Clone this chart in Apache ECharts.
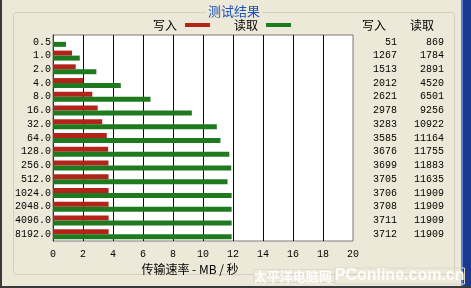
<!DOCTYPE html>
<html>
<head>
<meta charset="utf-8">
<script src="https://cdn.jsdelivr.net/npm/echarts@6/dist/echarts.min.js"></script>
<style>
html,body{margin:0;padding:0;background:#ECE9D8;}
#c{width:471px;height:288px;}
</style>
</head>
<body>
<div id="c"></div>
<script>
var categories = ['0.5','1.0','2.0','4.0','8.0','16.0','32.0','64.0','128.0','256.0','512.0','1024.0','2048.0','4096.0','8192.0'];
var writeKB = [51,1267,1513,2012,2621,2978,3283,3585,3676,3699,3705,3706,3708,3711,3712];
var readKB = [869,1784,2891,4520,6501,9256,10922,11164,11755,11883,11635,11909,11909,11909,11909];
var xTicks = [0,2,4,6,8,10,12,14,16,18,20];

var mono = '"Liberation Mono","DejaVu Sans Mono",monospace';
var cjk = '"Noto Sans CJK SC","Noto Sans",sans-serif';
var RED = '#B4231A', GREEN = '#1F7A1F';

var chart = echarts.init(document.getElementById('c'), null, {renderer:'canvas'});
var option = {
  animation:false,
  backgroundColor:'#ECE9D8',
  grid:{left:53, top:35, width:300, height:206, show:true, backgroundColor:'#ffffff', borderColor:'#7a7a7a', borderWidth:1},
  legend:{
    top:14, left:148, itemGap:24, itemWidth:25, itemHeight:4, align:'right',
    icon:'rect',
    textStyle:{fontFamily:cjk, fontSize:12, color:'#000', padding:[0,3,0,0]},
    data:[{name:'写入', itemStyle:{color:RED}}, {name:'读取', itemStyle:{color:GREEN}}]
  },
  xAxis:{
    type:'value', min:xTicks[0], max:xTicks[xTicks.length-1], interval:2,
    axisLine:{show:false}, axisTick:{show:false},
    splitLine:{show:true, showMinLine:false, showMaxLine:false, lineStyle:{color:'#000050', width:1}},
    axisLabel:{fontFamily:mono, fontSize:10, color:'#000', margin:8},
    name:'传输速率 - MB / 秒', nameLocation:'middle', nameGap:19,
    nameTextStyle:{fontFamily:cjk, fontSize:12, color:'#000', padding:[0,26,0,0]}
  },
  yAxis:[
    {type:'category', data:categories, inverse:true,
     axisLine:{show:true, lineStyle:{color:'#303030'}}, axisTick:{show:false}, splitLine:{show:false},
     axisLabel:{fontFamily:mono, fontSize:10, color:'#000', margin:2, interval:0}},
    {type:'category', data:categories, inverse:true, position:'right',
     axisLine:{show:false}, axisTick:{show:false}, splitLine:{show:false},
     axisLabel:{fontFamily:mono, fontSize:10, color:'#000', align:'right', margin:44, interval:0,
       formatter:function(v,i){return String(writeKB[i]);}}},
    {type:'category', data:categories, inverse:true, position:'right',
     axisLine:{show:false}, axisTick:{show:false}, splitLine:{show:false},
     axisLabel:{fontFamily:mono, fontSize:10, color:'#000', align:'right', margin:91, interval:0,
       formatter:function(v,i){return String(readKB[i]);}}}
  ],
  series:[
    {name:'写入', type:'bar', yAxisIndex:0, barWidth:5, barGap:'0%', itemStyle:{color:RED},
     data:writeKB.map(function(v){return v/1000;})},
    {name:'读取', type:'bar', yAxisIndex:0, barWidth:5, barGap:'0%', itemStyle:{color:GREEN},
     data:readKB.map(function(v){return v/1000;})}
  ],
  graphic:[
    {type:'rect', left:0, top:0, shape:{width:2, height:288}, style:{fill:'#3a3a3a'}, silent:true},
    {type:'rect', left:461, top:0, shape:{width:10, height:288}, style:{fill:'#1a3a8f'}, silent:true},
    {type:'rect', left:461, top:0, shape:{width:2, height:288}, style:{fill:'#5a7fd0'}, silent:true},
    {type:'rect', left:0, top:286, shape:{width:471, height:2}, style:{fill:'#3a3a3a'}, silent:true},
    {type:'rect', x:13.5, y:12.5, shape:{width:441, height:262, r:3}, style:{fill:'none', stroke:'#D0D0BF', lineWidth:1}, silent:true, z:-1},
    {type:'text', x:234, y:11, style:{text:'测试结果', fill:'#1f4fb4', font:'13px '+cjk, align:'center', verticalAlign:'middle', backgroundColor:'#ECE9D8', padding:[0,2]}, silent:true},
    {type:'text', x:374, y:25, style:{text:'写入', fill:'#000', font:'12px '+cjk, align:'center', verticalAlign:'middle'}, silent:true},
    {type:'text', x:422, y:25, style:{text:'读取', fill:'#000', font:'12px '+cjk, align:'center', verticalAlign:'middle'}, silent:true},
    {type:'text', right:6, y:268, style:{text:'{a|太平洋电脑网 }{b|PConline.com.cn}', fill:'#ffffff',
      rich:{a:{fontSize:13, fontFamily:cjk, fontWeight:'bold', fill:'#fdfdfb', textBorderColor:'#dcd8ca', textBorderWidth:1},
            b:{fontSize:16, fontFamily:'"Liberation Sans",sans-serif', fontWeight:'bold', fill:'#fdfdfb', textBorderColor:'#dcd8ca', textBorderWidth:1}}}, silent:true}
  ]
};
chart.setOption(option);
</script>
</body>
</html>
